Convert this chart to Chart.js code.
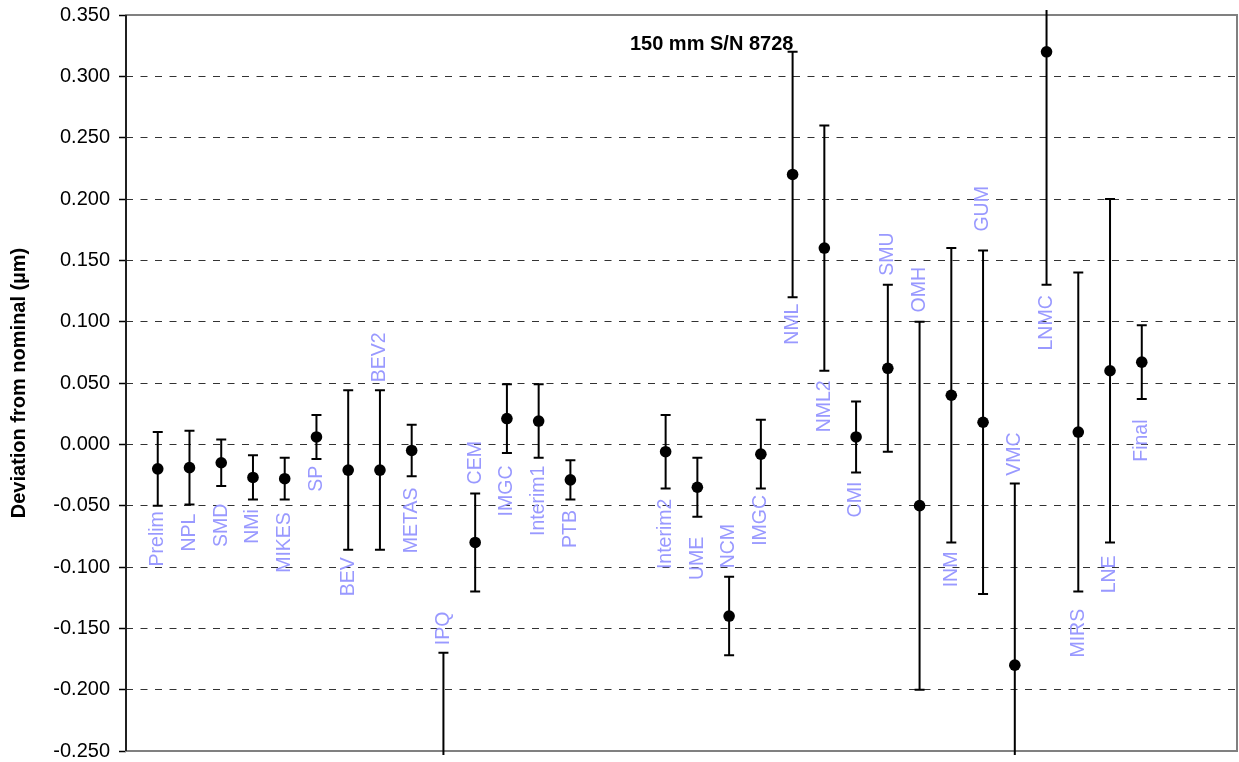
<!DOCTYPE html>
<html>
<head>
<meta charset="utf-8">
<script src="https://cdn.jsdelivr.net/npm/chart.js@4.4.1/dist/chart.umd.min.js"></script>
<style>
  body { margin: 0; background: #fff; }
  #wrap { width: 1239px; height: 762px; position: relative; }
</style>
</head>
<body>
<div id="wrap"><canvas id="gaugeChart"></canvas></div>
<script>
// labs in measurement order (x position = slot on the axis)
var labs = ["Prelim", "NPL", "SMD", "NMi", "MIKES", "SP", "BEV", "BEV2", "METAS", "IPQ",
            "CEM", "IMGC", "Interim1", "PTB", "Interim2", "UME", "NCM", "IMGC", "NML", "NML2",
            "CMI", "SMU", "OMH", "INM", "GUM", "VMC", "LNMC", "MIRS", "LNE", "Final"];
var slots = [1, 2, 3, 4, 5, 6, 7, 8, 9, 10, 11, 12, 13, 14,
             17, 18, 19, 20, 21, 22, 23, 24, 25, 26, 27, 28, 29, 30, 31, 32];
// deviation from nominal, um
var deviation = [-0.020, -0.019, -0.015, -0.027, -0.028, 0.006, -0.021, -0.021, -0.005, -0.300,
                 -0.080, 0.021, 0.019, -0.029, -0.006, -0.035, -0.140, -0.008, 0.220, 0.160,
                 0.006, 0.062, -0.050, 0.040, 0.018, -0.180, 0.320, 0.010, 0.060, 0.067];
// expanded uncertainty (half length of the error bar)
var uncert = [0.030, 0.030, 0.019, 0.018, 0.017, 0.018, 0.065, 0.065, 0.021, 0.130,
              0.040, 0.028, 0.030, 0.016, 0.030, 0.024, 0.032, 0.028, 0.100, 0.100,
              0.029, 0.068, 0.150, 0.120, 0.140, 0.148, 0.190, 0.130, 0.140, 0.030];
// where each lab name sits (value at the middle of the text)
var labelAt = [-0.077, -0.072, -0.066, -0.067, -0.080, -0.028, -0.108, 0.071, -0.062, -0.150,
               -0.015, -0.038, -0.046, -0.069, -0.073, -0.093, -0.083, -0.062, 0.098, 0.031,
               -0.045, 0.155, 0.126, -0.102, 0.192, -0.008, 0.099, -0.154, -0.106, 0.003];
var yTicks = [-0.25, 0.35, 0.05]; // min, max, step
var chartTitle = "150 mm S/N 8728";

var FONT = "Arial, 'Liberation Sans', sans-serif";

var points = [];
for (var i = 0; i < labs.length; i++) {
    points.push({ x: slots[i], y: deviation[i] });
}

// frame, lab names, error bars and the little title
var extras = {
    id: "extras",
    beforeDatasetsDraw: function (chart) {
        var ctx = chart.ctx, a = chart.chartArea;
        var xs = chart.scales.x, ys = chart.scales.y;
        ctx.save();

        ctx.strokeStyle = "#808080";
        ctx.lineWidth = 2;
        ctx.strokeRect(a.left, a.top, a.right - a.left, a.bottom - a.top);
        ctx.strokeStyle = "#000";
        ctx.lineWidth = 1.5;
        ctx.beginPath();
        ctx.moveTo(a.left, a.top);
        ctx.lineTo(a.left, a.bottom);
        ctx.stroke();

        // lab names, rotated
        ctx.fillStyle = "#9999ff";
        ctx.font = "19.5px " + FONT;
        ctx.textAlign = "center";
        ctx.textBaseline = "middle";
        for (var i = 0; i < labs.length; i++) {
            ctx.save();
            ctx.translate(xs.getPixelForValue(slots[i]), ys.getPixelForValue(labelAt[i]));
            ctx.rotate(-Math.PI / 2);
            ctx.fillText(labs[i], 0, 0);
            ctx.restore();
        }

        // error bars
        ctx.save();
        ctx.beginPath();
        ctx.rect(a.left, a.top - 5, a.right - a.left, a.bottom - a.top + 9);
        ctx.clip();
        ctx.strokeStyle = "#000";
        ctx.lineWidth = 2;
        for (var j = 0; j < labs.length; j++) {
            var px = xs.getPixelForValue(slots[j]);
            var hi = ys.getPixelForValue(deviation[j] + uncert[j]);
            var lo = ys.getPixelForValue(deviation[j] - uncert[j]);
            ctx.beginPath();
            ctx.moveTo(px, hi);
            ctx.lineTo(px, lo);
            ctx.moveTo(px - 5, hi);
            ctx.lineTo(px + 5, hi);
            ctx.moveTo(px - 5, lo);
            ctx.lineTo(px + 5, lo);
            ctx.stroke();
        }
        ctx.restore();

        ctx.fillStyle = "#000";
        ctx.font = "bold 20px " + FONT;
        ctx.fillText(chartTitle, xs.getPixelForValue(18.45), ys.getPixelForValue(0.326));
        ctx.restore();
    }
};

new Chart(document.getElementById("gaugeChart"), {
    type: "scatter",
    data: {
        datasets: [{
            label: "Deviation",
            data: points,
            backgroundColor: "#000",
            borderColor: "#000",
            borderWidth: 0,
            pointRadius: 5.8,
            pointHoverRadius: 5.8
        }]
    },
    options: {
        responsive: true,
        maintainAspectRatio: false,
        animation: false,
        layout: { autoPadding: false, padding: { top: 15, right: 2, bottom: 11, left: 0 } },
        plugins: {
            legend: { display: false },
            tooltip: { enabled: false },
            title: { display: false }
        },
        scales: {
            x: { type: "linear", min: 0, max: 35, display: false },
            y: {
                min: yTicks[0],
                max: yTicks[1],
                ticks: {
                    stepSize: yTicks[2],
                    padding: 9,
                    color: "#000",
                    font: { size: 20, family: FONT, lineHeight: 0.1 },
                    callback: function (v) {
                        if (Math.abs(v) < 1e-9) v = 0;
                        return v.toFixed(3);
                    }
                },
                grid: {
                    color: "#333",
                    lineWidth: 1,
                    tickLength: 7,
                    tickColor: "#000",
                    tickWidth: 1.5,
                    tickBorderDash: []
                },
                border: { display: false, dash: [7, 7.5] },
                title: {
                    display: true,
                    text: "Deviation from nominal (µm)",
                    color: "#000",
                    font: { size: 20, weight: "bold", family: FONT },
                    padding: { top: 7, bottom: 0 }
                },
                afterFit: function (scale) { scale.width = 126; }
            }
        }
    },
    plugins: [extras]
});
</script>
</body>
</html>
